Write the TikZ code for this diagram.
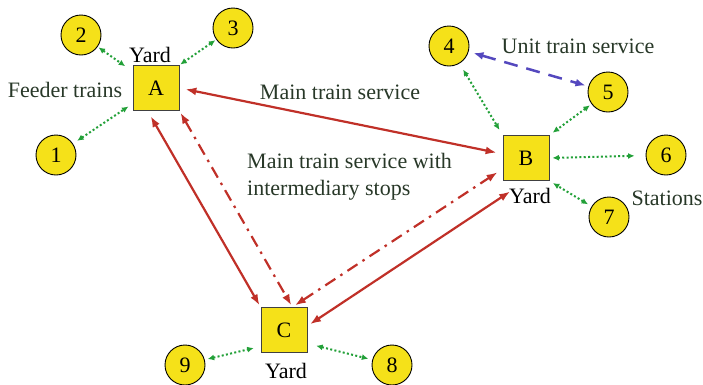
\documentclass[tikz,border=0pt]{standalone}
\usepackage{fontspec}
\setmainfont{Liberation Serif}
\usetikzlibrary{arrows.meta}
\definecolor{yardfill}{RGB}{245,225,25}
\definecolor{mainred}{RGB}{192,48,40}
\definecolor{feedgreen}{RGB}{34,160,56}
\definecolor{unitblue}{RGB}{84,72,190}
\definecolor{labeltext}{RGB}{40,56,40}
\tikzset{
  yardbox/.style={draw=black!75, line width=0.9pt, fill=yardfill, minimum width=46pt, minimum height=45pt, inner sep=0pt, font=\fontsize{22}{27}\selectfont},
  stationdot/.style={circle, draw=black, line width=0.9pt, fill=yardfill, minimum size=40pt, inner sep=0pt, font=\fontsize{22}{27}\selectfont},
  lbl/.style={text=labeltext, inner sep=0pt, font=\fontsize{22}{27}\selectfont},
  yardlbl/.style={text=black, inner sep=0pt, font=\fontsize{22}{27}\selectfont},
  mainline/.style={draw=mainred, line width=2.2pt, {Latex[length=11pt,width=8pt]}-{Latex[length=11pt,width=8pt]}},
  stopline/.style={draw=mainred, line width=2.2pt, dash pattern=on 12pt off 6pt on 2.5pt off 6pt, {Latex[length=11pt,width=8pt]}-{Latex[length=11pt,width=8pt]}},
  feedline/.style={draw=feedgreen, line width=2pt, dash pattern=on 2pt off 2.3pt, {Latex[length=6.5pt,width=6pt]}-{Latex[length=6.5pt,width=6pt]}},
  unitline/.style={draw=unitblue, line width=2.5pt, dash pattern=on 14pt off 9pt, {Latex[length=10pt,width=8pt]}-{Latex[length=10pt,width=8pt]}},
}
\begin{document}
\begin{tikzpicture}[x=1pt,y=-1pt]
\useasboundingbox (0,0) rectangle (703,384);

% yards
\node[yardbox] (A) at (156,88) {A};
\node[yardbox] (B) at (526,158) {B};
\node[yardbox] (C) at (284,330) {C};

% stations
\node[stationdot] (s1) at (56,155) {1};
\node[stationdot] (s2) at (81,35) {2};
\node[stationdot] (s3) at (233,28) {3};
\node[stationdot] (s4) at (449,46) {4};
\node[stationdot] (s5) at (608,92) {5};
\node[stationdot] (s6) at (666,155) {6};
\node[stationdot] (s7) at (609,217) {7};
\node[stationdot] (s8) at (392,365) {8};
\node[stationdot] (s9) at (185,365) {9};

% labels
\node[yardlbl, anchor=base] (yA) at (150,62) {Yard};
\node[yardlbl, anchor=base] (yB) at (530,203) {Yard};
\node[yardlbl, anchor=base] (yC) at (286,378) {Yard};
\node[lbl, anchor=base] (feed) at (65,97) {Feeder trains};
\node[lbl, anchor=base] (main) at (340,99) {Main train service};
\node[lbl, anchor=base] (unit) at (578,53) {Unit train service};
\node[lbl, anchor=base] (stat) at (667,205) {Stations};
\node[lbl, anchor=base west, align=left] (stops) at (247,195) {Main train service with\\intermediary stops};

% main train services
\draw[mainline, shorten <=6pt, shorten >=6pt] (A.east) -- (B.170);
\draw[mainline, shorten <=6pt, shorten >=2pt] (A.250) -- (C.north west);
\draw[mainline, shorten <=3pt, shorten >=19pt] (C.10) -- (B.south);

% service with intermediary stops, A - C - B
\draw[stopline, shorten <=2pt, shorten >=2pt] (A.south east) -- (C.70);
\draw[stopline, shorten <=3pt, shorten >=6pt] (C.70) -- (B.205);

% unit train
\draw[unitline, shorten <=5pt, shorten >=3pt] (s4) -- (s5);

% feeder links
\draw[feedline, shorten <=1pt, shorten >=9pt] (s2) -- (A);
\draw[feedline, shorten <=1pt, shorten >=1pt] (s3) -- (A.north east);
\draw[feedline, shorten <=5pt, shorten >=5pt] (s1) -- (A);
\draw[feedline, shorten <=7pt, shorten >=6pt] (s4) -- (B.north west);
\draw[feedline, shorten <=2pt, shorten >=4pt] (s5) -- (B.north east);
\draw[feedline, shorten <=11pt, shorten >=3pt] (s6) -- (B.east);
\draw[feedline, shorten <=4pt, shorten >=4pt] (s7) -- (B.south east);
\draw[feedline, shorten <=3pt, shorten >=7pt] (s9.15) -- (C.215);
\draw[feedline, shorten <=9pt, shorten >=4pt] (C.-30) -- (s8.165);
\end{tikzpicture}
\end{document}
